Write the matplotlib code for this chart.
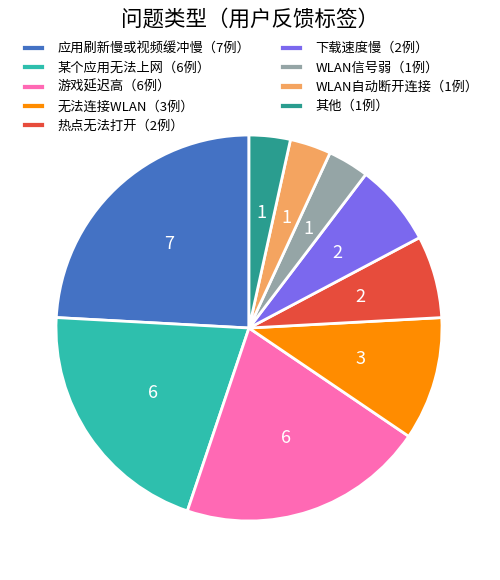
import matplotlib
matplotlib.use('Agg')
import matplotlib.pyplot as plt

plt.rcParams['font.family'] = ['Noto Sans CJK SC', 'DejaVu Sans']

# data
categories = ['应用刷新慢或视频缓冲慢', '某个应用无法上网', '游戏延迟高', '无法连接WLAN',
              '热点无法打开', '下载速度慢', 'WLAN信号弱', 'WLAN自动断开连接', '其他']
counts = [7, 6, 6, 3, 2, 2, 1, 1, 1]
colors = ['#4472C4', '#2EBFAD', '#FF69B4', '#FF8C00', '#E74C3C',
          '#7B68EE', '#95A5A6', '#F4A460', '#2A9D8F']

fig = plt.figure(figsize=(5, 5.8), dpi=100)
ax = fig.add_axes([0.112, 0.1017, 0.772, 0.6655])

wedges, texts = ax.pie(counts, colors=colors, startangle=90, counterclock=True,
                       labels=[str(c) for c in counts], labeldistance=0.6,
                       wedgeprops=dict(edgecolor='white', linewidth=2))
for t in texts:
    t.set_color('white')
    t.set_fontsize(13)
    t.set_ha('center')
    t.set_va('center')
ax.set_xlim(-1.0, 1.0)
ax.set_ylim(-1.0, 1.0)
ax.set_aspect('equal')

labels = [f'{c}（{n}例）' for c, n in zip(categories, counts)]
fig.legend(wedges, labels, loc='upper center', bbox_to_anchor=(0.5, 0.948),
           ncol=2, frameon=False, fontsize=9.5, handlelength=1.8, handleheight=0.45,
           columnspacing=2.2, labelspacing=0.48, handletextpad=0.95)

fig.suptitle('问题类型（用户反馈标签）', fontsize=15.5, y=0.985)

fig.savefig('out.png', dpi=100)
